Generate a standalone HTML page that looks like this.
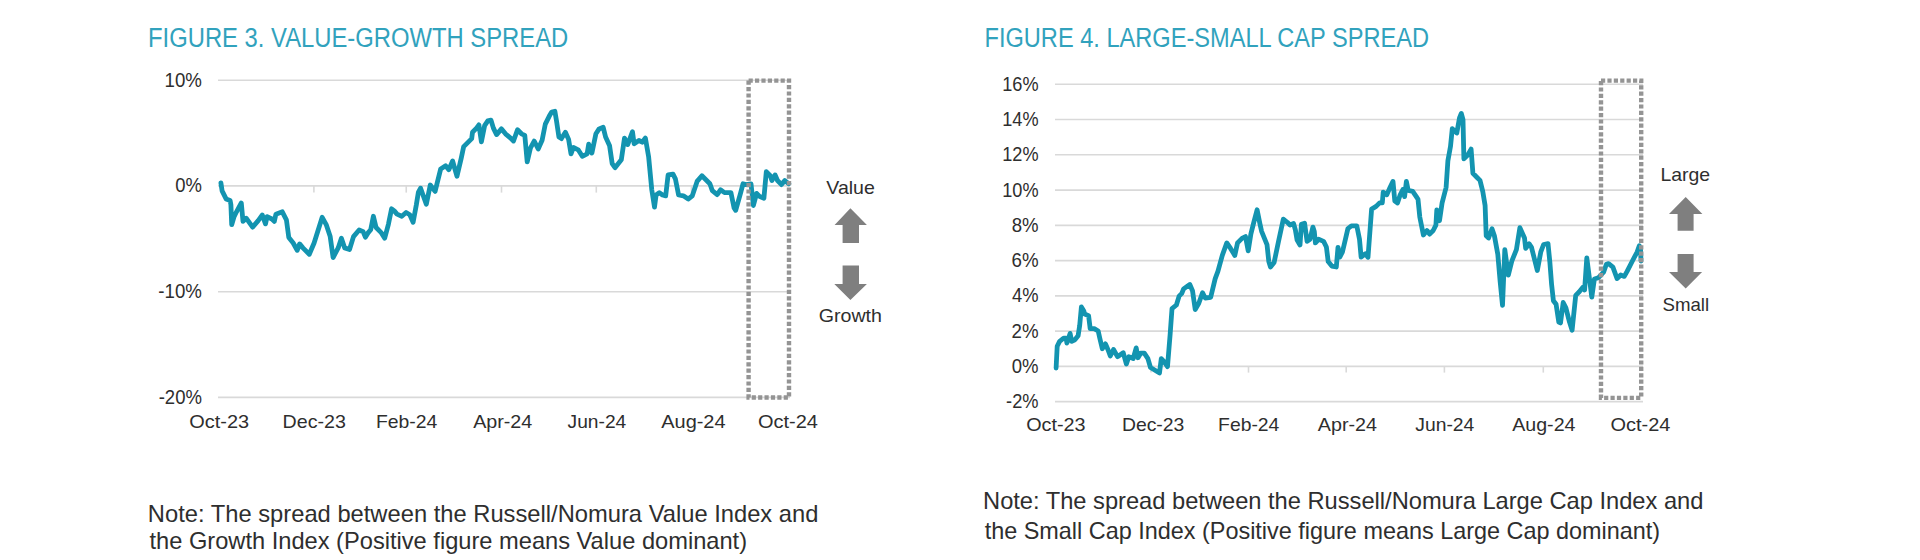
<!DOCTYPE html>
<html><head><meta charset="utf-8"><title>Figures 3 and 4</title>
<style>
html,body{margin:0;padding:0;background:#fff;width:1920px;height:560px;overflow:hidden;}
svg{display:block;font-family:"Liberation Sans", sans-serif;}
</style></head><body>
<svg width="1920" height="560" viewBox="0 0 1920 560">
<rect width="1920" height="560" fill="#fff"/>
<text x="148.06" y="46.80" font-size="27" fill="#31a2bd" textLength="420.18" lengthAdjust="spacingAndGlyphs">FIGURE 3. VALUE-GROWTH SPREAD</text>
<text x="984.47" y="46.80" font-size="27" fill="#31a2bd" textLength="444.56" lengthAdjust="spacingAndGlyphs">FIGURE 4. LARGE-SMALL CAP SPREAD</text>
<line x1="218" y1="80.2" x2="790" y2="80.2" stroke="#d9d9d9" stroke-width="1.6"/>
<line x1="218" y1="185.9" x2="790" y2="185.9" stroke="#d9d9d9" stroke-width="1.6"/>
<line x1="218" y1="291.7" x2="790" y2="291.7" stroke="#d9d9d9" stroke-width="1.6"/>
<line x1="218" y1="397.4" x2="790" y2="397.4" stroke="#d9d9d9" stroke-width="1.6"/>
<line x1="313.9" y1="185.9" x2="313.9" y2="192.6" stroke="#d9d9d9" stroke-width="1.6"/>
<line x1="406.25" y1="185.9" x2="406.25" y2="192.6" stroke="#d9d9d9" stroke-width="1.6"/>
<line x1="501.5" y1="185.9" x2="501.5" y2="192.6" stroke="#d9d9d9" stroke-width="1.6"/>
<line x1="596.3" y1="185.9" x2="596.3" y2="192.6" stroke="#d9d9d9" stroke-width="1.6"/>
<line x1="691.5" y1="185.9" x2="691.5" y2="192.6" stroke="#d9d9d9" stroke-width="1.6"/>
<text x="164.58" y="86.50" font-size="20.5" fill="#2e2e2e" textLength="37.39" lengthAdjust="spacingAndGlyphs">10%</text>
<text x="175.28" y="192.20" font-size="20.5" fill="#2e2e2e" textLength="26.68" lengthAdjust="spacingAndGlyphs">0%</text>
<text x="158.37" y="298.00" font-size="20.5" fill="#2e2e2e" textLength="43.60" lengthAdjust="spacingAndGlyphs">-10%</text>
<text x="158.68" y="403.70" font-size="20.5" fill="#2e2e2e" textLength="43.28" lengthAdjust="spacingAndGlyphs">-20%</text>
<text x="189.36" y="427.50" font-size="19" fill="#2e2e2e" textLength="59.82" lengthAdjust="spacingAndGlyphs">Oct-23</text>
<text x="282.59" y="427.50" font-size="19" fill="#2e2e2e" textLength="63.27" lengthAdjust="spacingAndGlyphs">Dec-23</text>
<text x="375.91" y="427.50" font-size="19" fill="#2e2e2e" textLength="61.36" lengthAdjust="spacingAndGlyphs">Feb-24</text>
<text x="473.16" y="427.50" font-size="19" fill="#2e2e2e" textLength="59.12" lengthAdjust="spacingAndGlyphs">Apr-24</text>
<text x="567.60" y="427.50" font-size="19" fill="#2e2e2e" textLength="58.66" lengthAdjust="spacingAndGlyphs">Jun-24</text>
<text x="661.26" y="427.50" font-size="19" fill="#2e2e2e" textLength="64.32" lengthAdjust="spacingAndGlyphs">Aug-24</text>
<text x="758.05" y="427.50" font-size="19" fill="#2e2e2e" textLength="59.93" lengthAdjust="spacingAndGlyphs">Oct-24</text>
<polyline points="220.9,182.9 222.1,190.9 226.1,198.9 230.1,200.5 230.9,204.6 231.7,224.7 234.1,216.6 236.5,211.8 241.3,203.0 243.0,221.4 246.2,218.2 252.6,227.1 258.2,220.6 262.3,215.0 265.5,223.9 267.1,216.6 271.9,219.0 274.3,221.4 275.9,214.2 282.3,211.8 286.4,219.8 288.8,237.5 293.2,243.0 297.2,250.3 299.6,243.9 302.9,247.9 309.3,254.3 314.1,243.0 322.2,217.3 326.2,224.6 330.2,236.6 333.1,257.5 338.2,247.9 341.4,238.2 344.7,247.9 349.5,249.5 353.5,236.6 359.1,230.0 363.2,231.8 365.4,237.2 368.0,232.9 370.7,229.7 373.4,216.3 376.1,227.5 381.4,232.9 384.7,238.2 388.4,224.3 391.6,208.8 394.3,210.9 397.0,214.1 401.8,216.3 406.1,212.5 409.8,214.7 413.1,222.2 416.3,205.0 418.4,192.1 420.6,188.2 426.3,204.3 430.3,185.0 435.1,191.4 440.7,168.9 445.6,165.7 448.8,169.7 452.6,161.0 457.0,176.3 461.3,157.9 463.7,146.6 467.7,142.6 471.7,138.6 472.5,132.2 476.5,128.1 478.9,124.9 481.4,141.8 484.6,125.7 487.8,120.9 491.0,120.1 493.4,128.1 496.6,134.6 501.4,128.9 505.5,133.8 510.3,137.8 513.5,141.0 517.5,129.7 521.5,133.8 524.8,135.4 527.2,161.9 530.4,148.2 534.2,141.0 538.2,149.0 542.1,140.2 545.3,124.1 549.3,116.1 551.7,112.1 554.9,111.3 556.5,120.9 558.9,137.0 561.4,138.6 565.4,132.2 568.6,139.4 571.0,153.9 573.4,147.4 578.2,149.8 582.3,156.3 587.1,153.9 588.7,144.2 591.9,153.1 595.9,133.8 599.1,128.9 603.2,127.3 605.6,137.0 609.6,145.8 612.2,163.7 615.0,167.7 621.3,159.8 624.5,138.1 627.7,144.6 632.5,131.7 634.1,143.8 638.9,140.5 642.2,142.2 645.4,138.1 648.6,156.6 651.8,190.0 654.5,207.1 656.1,195.0 659.3,192.6 662.5,195.0 665.7,195.8 668.1,174.9 673.0,174.1 675.4,178.9 678.6,195.0 683.4,195.8 688.2,199.0 692.3,195.8 697.1,181.4 701.9,175.7 705.9,179.7 709.9,183.8 712.3,190.6 717.2,194.6 720.5,189.8 724.5,192.6 730.9,192.6 734.1,207.9 735.7,210.3 740.5,193.4 743.0,183.8 746.2,184.6 751.0,183.8 753.4,205.5 756.6,193.4 759.8,196.6 763.9,198.2 766.3,171.7 770.3,175.7 771.9,180.5 775.1,174.9 777.5,180.5 781.5,184.6 784.8,180.5 788.8,183.8" fill="none" stroke="#1394b0" stroke-width="4.8" stroke-linejoin="round" stroke-linecap="round"/>
<rect x="748.6" y="80.6" width="40.4" height="316.9" fill="none" stroke="#949494" stroke-width="4.4" stroke-dasharray="4.2 2.2"/>
<text x="826.32" y="193.60" font-size="18.5" fill="#2e2e2e" textLength="48.53" lengthAdjust="spacingAndGlyphs">Value</text>
<text x="818.71" y="321.60" font-size="18.5" fill="#2e2e2e" textLength="63.26" lengthAdjust="spacingAndGlyphs">Growth</text>
<polygon points="850.4,208.3 866.9,225 859,225 859,242.9 842.6,242.9 842.6,225 834.6,225" fill="#7f7f7f"/>
<polygon points="842.6,265.4 859,265.4 859,284 866.9,284 850.4,300 834.3,284 842.6,284" fill="#7f7f7f"/>
<line x1="1055" y1="401.66" x2="1643" y2="401.66" stroke="#d9d9d9" stroke-width="1.6"/>
<line x1="1055" y1="366.40" x2="1643" y2="366.40" stroke="#d9d9d9" stroke-width="1.6"/>
<line x1="1055" y1="331.14" x2="1643" y2="331.14" stroke="#d9d9d9" stroke-width="1.6"/>
<line x1="1055" y1="295.88" x2="1643" y2="295.88" stroke="#d9d9d9" stroke-width="1.6"/>
<line x1="1055" y1="260.61" x2="1643" y2="260.61" stroke="#d9d9d9" stroke-width="1.6"/>
<line x1="1055" y1="225.35" x2="1643" y2="225.35" stroke="#d9d9d9" stroke-width="1.6"/>
<line x1="1055" y1="190.09" x2="1643" y2="190.09" stroke="#d9d9d9" stroke-width="1.6"/>
<line x1="1055" y1="154.82" x2="1643" y2="154.82" stroke="#d9d9d9" stroke-width="1.6"/>
<line x1="1055" y1="119.56" x2="1643" y2="119.56" stroke="#d9d9d9" stroke-width="1.6"/>
<line x1="1055" y1="84.30" x2="1643" y2="84.30" stroke="#d9d9d9" stroke-width="1.6"/>
<line x1="1151.0" y1="366.40" x2="1151.0" y2="372.6" stroke="#d9d9d9" stroke-width="1.6"/>
<line x1="1248.5" y1="366.40" x2="1248.5" y2="372.6" stroke="#d9d9d9" stroke-width="1.6"/>
<line x1="1346.2" y1="366.40" x2="1346.2" y2="372.6" stroke="#d9d9d9" stroke-width="1.6"/>
<line x1="1444.4" y1="366.40" x2="1444.4" y2="372.6" stroke="#d9d9d9" stroke-width="1.6"/>
<line x1="1543.3" y1="366.40" x2="1543.3" y2="372.6" stroke="#d9d9d9" stroke-width="1.6"/>
<text x="1006.09" y="408.26" font-size="19.5" fill="#2e2e2e" textLength="32.46" lengthAdjust="spacingAndGlyphs">-2%</text>
<text x="1011.78" y="373.00" font-size="19.5" fill="#2e2e2e" textLength="26.78" lengthAdjust="spacingAndGlyphs">0%</text>
<text x="1011.56" y="337.74" font-size="19.5" fill="#2e2e2e" textLength="27.01" lengthAdjust="spacingAndGlyphs">2%</text>
<text x="1012.08" y="302.48" font-size="19.5" fill="#2e2e2e" textLength="26.47" lengthAdjust="spacingAndGlyphs">4%</text>
<text x="1011.55" y="267.21" font-size="19.5" fill="#2e2e2e" textLength="27.02" lengthAdjust="spacingAndGlyphs">6%</text>
<text x="1011.69" y="231.95" font-size="19.5" fill="#2e2e2e" textLength="26.87" lengthAdjust="spacingAndGlyphs">8%</text>
<text x="1002.22" y="196.69" font-size="19.5" fill="#2e2e2e" textLength="36.33" lengthAdjust="spacingAndGlyphs">10%</text>
<text x="1002.22" y="161.42" font-size="19.5" fill="#2e2e2e" textLength="36.33" lengthAdjust="spacingAndGlyphs">12%</text>
<text x="1002.22" y="126.16" font-size="19.5" fill="#2e2e2e" textLength="36.33" lengthAdjust="spacingAndGlyphs">14%</text>
<text x="1002.22" y="90.90" font-size="19.5" fill="#2e2e2e" textLength="36.33" lengthAdjust="spacingAndGlyphs">16%</text>
<text x="1026.16" y="430.50" font-size="19" fill="#2e2e2e" textLength="59.41" lengthAdjust="spacingAndGlyphs">Oct-23</text>
<text x="1121.91" y="430.50" font-size="19" fill="#2e2e2e" textLength="62.44" lengthAdjust="spacingAndGlyphs">Dec-23</text>
<text x="1218.11" y="430.50" font-size="19" fill="#2e2e2e" textLength="61.25" lengthAdjust="spacingAndGlyphs">Feb-24</text>
<text x="1317.86" y="430.50" font-size="19" fill="#2e2e2e" textLength="59.12" lengthAdjust="spacingAndGlyphs">Apr-24</text>
<text x="1415.30" y="430.50" font-size="19" fill="#2e2e2e" textLength="59.07" lengthAdjust="spacingAndGlyphs">Jun-24</text>
<text x="1512.26" y="430.50" font-size="19" fill="#2e2e2e" textLength="63.21" lengthAdjust="spacingAndGlyphs">Aug-24</text>
<text x="1610.55" y="430.50" font-size="19" fill="#2e2e2e" textLength="59.93" lengthAdjust="spacingAndGlyphs">Oct-24</text>
<polyline points="1056.1,368.0 1057.2,346.3 1059.6,341.4 1063.7,338.2 1066.1,338.2 1066.9,343.1 1070.1,333.4 1071.7,341.4 1074.9,339.8 1078.1,335.8 1079.7,325.4 1081.4,306.9 1083.8,310.9 1084.6,314.1 1088.6,315.7 1090.2,328.6 1094.2,328.6 1098.2,331.0 1099.8,338.2 1102.3,348.7 1105.5,343.9 1107.9,349.5 1110.3,355.9 1113.5,349.5 1117.5,356.7 1123.2,352.7 1126.4,364.0 1128.8,356.7 1133.2,358.5 1136.2,347.9 1138.0,357.7 1140.7,353.2 1144.3,353.2 1147.9,358.6 1150.5,367.5 1155.0,370.2 1159.5,372.9 1161.3,358.6 1163.9,361.3 1167.5,366.6 1170.2,333.6 1172.0,308.6 1176.4,305.0 1179.1,296.1 1181.8,293.4 1183.6,288.9 1189.8,284.5 1192.5,290.7 1195.2,309.5 1198.8,303.2 1202.5,292.7 1205.2,298.0 1210.7,297.3 1215.2,278.6 1217.9,271.4 1222.3,255.4 1226.8,242.9 1230.4,248.2 1234.8,255.4 1237.5,242.9 1242.0,238.4 1245.5,236.6 1248.2,250.9 1250.9,233.9 1253.6,223.2 1257.1,209.8 1259.8,223.2 1261.6,231.3 1267.0,244.6 1268.8,261.6 1270.5,267.0 1274.1,262.5 1278.6,241.1 1283.3,219.2 1287.3,222.3 1290.0,225.0 1293.6,223.6 1295.4,230.0 1297.1,240.0 1300.0,245.0 1301.4,224.3 1304.6,223.2 1305.7,231.4 1307.1,241.4 1310.0,239.3 1312.9,227.1 1314.3,231.4 1315.4,242.9 1318.6,239.3 1323.6,241.4 1326.4,247.0 1328.2,261.6 1331.8,266.1 1336.3,267.0 1338.0,247.3 1339.8,257.1 1342.5,251.8 1347.9,228.6 1351.4,225.9 1356.8,225.9 1359.5,239.3 1361.1,257.0 1365.4,253.8 1368.0,257.3 1371.6,209.1 1376.1,206.4 1379.6,202.9 1382.3,202.9 1383.2,192.1 1386.8,194.8 1389.5,188.6 1393.0,181.4 1394.8,201.1 1397.5,202.9 1400.2,194.8 1402.9,189.5 1404.6,196.6 1406.4,181.4 1408.2,190.4 1412.7,191.3 1416.3,196.6 1418.0,199.3 1419.8,217.1 1423.4,235.0 1427.0,230.5 1429.6,234.1 1433.2,230.5 1435.9,225.2 1436.8,210.0 1439.5,220.7 1442.1,202.9 1446.1,187.5 1447.9,160.7 1450.5,146.4 1452.3,128.6 1456.8,133.0 1459.5,117.9 1461.3,113.4 1463.0,119.6 1463.9,158.9 1467.5,155.4 1471.1,149.1 1472.9,173.2 1477.3,177.7 1480.0,180.4 1482.8,191.6 1485.1,205.5 1486.2,235.7 1488.6,238.0 1492.0,228.7 1494.4,235.7 1497.8,254.2 1500.2,282.1 1502.5,305.3 1504.8,249.6 1508.3,275.1 1511.8,261.2 1516.4,249.6 1519.9,227.6 1524.5,238.0 1525.7,248.4 1529.2,243.8 1531.5,247.3 1537.3,270.5 1540.8,251.9 1543.6,244.5 1548.0,243.6 1549.8,261.4 1551.6,284.6 1553.4,300.7 1556.1,304.3 1558.8,322.1 1560.5,323.0 1563.2,302.5 1565.9,307.9 1569.5,322.1 1572.1,330.2 1575.7,295.4 1579.3,291.8 1582.9,287.3 1584.6,290.0 1586.8,257.9 1589.1,275.7 1591.8,297.1 1594.4,279.0 1598.3,277.8 1603.6,272.1 1606.4,264.3 1608.6,263.6 1612.9,267.1 1617.1,278.6 1620.7,275.0 1624.3,276.4 1627.1,271.4 1632.9,260.0 1637.1,252.1 1639.3,245.7 1640.6,250.0 1641.0,261.0" fill="none" stroke="#1394b0" stroke-width="4.8" stroke-linejoin="round" stroke-linecap="round"/>
<rect x="1601" y="80.6" width="40.2" height="317.3" fill="none" stroke="#949494" stroke-width="4.4" stroke-dasharray="4.2 2.2"/>
<text x="1660.51" y="181.40" font-size="18.5" fill="#2e2e2e" textLength="49.66" lengthAdjust="spacingAndGlyphs">Large</text>
<text x="1662.45" y="311.40" font-size="18.5" fill="#2e2e2e" textLength="46.70" lengthAdjust="spacingAndGlyphs">Small</text>
<polygon points="1685.7,196.9 1702.4,214 1693.6,214 1693.6,230.7 1677.6,230.7 1677.6,214 1669,214" fill="#7f7f7f"/>
<polygon points="1677.6,254 1693.6,254 1693.6,272.1 1702.1,272.1 1685.7,288.6 1669,272.1 1677.6,272.1" fill="#7f7f7f"/>
<text x="147.86" y="521.50" font-size="24" fill="#2e2e2e" textLength="670.56" lengthAdjust="spacingAndGlyphs">Note: The spread between the Russell/Nomura Value Index and</text>
<text x="149.44" y="549.20" font-size="24" fill="#2e2e2e" textLength="597.62" lengthAdjust="spacingAndGlyphs">the Growth Index (Positive figure means Value dominant)</text>
<text x="983.06" y="508.70" font-size="24" fill="#2e2e2e" textLength="720.36" lengthAdjust="spacingAndGlyphs">Note: The spread between the Russell/Nomura Large Cap Index and</text>
<text x="984.65" y="538.50" font-size="24" fill="#2e2e2e" textLength="675.51" lengthAdjust="spacingAndGlyphs">the Small Cap Index (Positive figure means Large Cap dominant)</text>
</svg>
</body></html>
